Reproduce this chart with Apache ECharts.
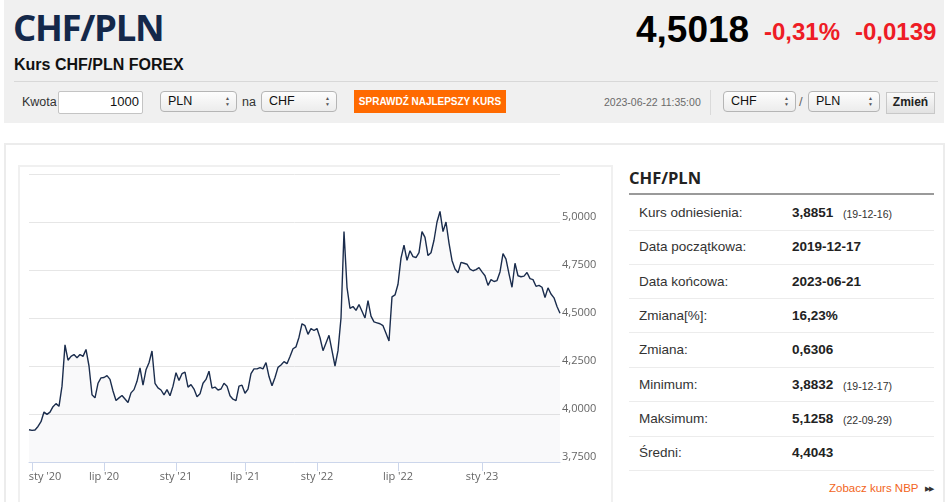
<!DOCTYPE html>
<html>
<head>
<meta charset="utf-8">
<script src="https://cdn.jsdelivr.net/npm/echarts@6/dist/echarts.min.js"></script>
<style>
  html, body { margin:0; padding:0; background:#fff; }
  body { width:948px; height:502px; position:relative; overflow:hidden; font-family:"Liberation Sans", Arial, sans-serif; color:#333; }
  .abs { position:absolute; white-space:nowrap; }
  .sel { position:absolute; height:19px; border:1px solid #b5b5b5; border-radius:4px; background:linear-gradient(#fdfdfd,#ececec); font-size:12.5px; line-height:19px; color:#111; box-sizing:content-box; }
  .sel span.t { position:absolute; left:7px; top:0; }
  .sel span.a { position:absolute; right:6px; top:4px; font-size:5px; line-height:5.5px; color:#555; text-align:center; }
  .row { position:absolute; left:629px; width:305px; height:1px; background:#ececec; }
  .lab { position:absolute; left:639px; font-size:13.5px; color:#333; white-space:nowrap; }
  .val { position:absolute; left:792px; font-size:13.5px; font-weight:bold; color:#222; white-space:nowrap; }
  .dt { position:absolute; left:843px; font-size:10.5px; color:#333; white-space:nowrap; }
</style>
</head>
<body>
<div class="abs" style="left:4px;top:0;width:940px;height:123px;background:#f0f0f0"></div>

<div class="abs" style="left:13px;top:5px;font-family:'Open Sans';font-weight:700;font-size:36.5px;line-height:44px;color:#14284a;letter-spacing:-1.3px">CHF/PLN</div>
<div class="abs" style="left:14px;top:57px;font-size:16px;line-height:16px;font-weight:bold;color:#111">Kurs CHF/PLN FOREX</div>

<div class="abs" style="left:636px;top:11px;font-size:37px;line-height:37px;font-weight:bold;color:#000">4,5018</div>
<div class="abs" style="left:764px;top:20px;font-size:24px;line-height:24px;font-weight:bold;color:#ee1c25">-0,31%</div>
<div class="abs" style="left:855px;top:20px;font-size:24px;line-height:24px;font-weight:bold;color:#ee1c25">-0,0139</div>

<div class="abs" style="left:14px;top:81px;width:924px;height:1px;background:#d8d8d8"></div>

<div class="abs" style="left:22px;top:96px;font-size:12.5px;line-height:13px;color:#333">Kwota</div>
<div class="abs" style="left:58px;top:91px;width:83px;height:21px;background:#fff;border:1px solid #c4c4c4;border-radius:2px"></div>
<div class="abs" style="left:110px;top:95px;width:28px;text-align:right;font-size:13px;line-height:14px;color:#111">1000</div>

<div class="sel" style="left:160px;top:91px;width:75px"><span class="t">PLN</span><span class="a">▲<br>▼</span></div>
<div class="abs" style="left:242px;top:96px;font-size:12.5px;line-height:13px;color:#333">na</div>
<div class="sel" style="left:261px;top:91px;width:74px"><span class="t">CHF</span><span class="a">▲<br>▼</span></div>

<div class="abs" style="left:354px;top:90px;width:152px;height:23px;background:#ff6a00"></div>
<div class="abs" style="left:354px;top:96px;width:152px;text-align:center;font-size:10.5px;line-height:11px;font-weight:bold;color:#fff;transform:scaleX(0.95)">SPRAWDŹ NAJLEPSZY KURS</div>

<div class="abs" style="left:604px;top:97px;font-size:10.5px;line-height:11px;color:#6a6a6a">2023-06-22 11:35:00</div>
<div class="abs" style="left:710px;top:90px;width:1px;height:25px;background:#dadada"></div>
<div class="sel" style="left:723px;top:91px;width:71px"><span class="t">CHF</span><span class="a">▲<br>▼</span></div>
<div class="abs" style="left:799px;top:95px;font-size:13px;line-height:14px;color:#666">/</div>
<div class="sel" style="left:808px;top:91px;width:70px"><span class="t">PLN</span><span class="a">▲<br>▼</span></div>
<div class="abs" style="left:886px;top:92px;width:47px;height:20px;border:1px solid #c8c8c8;background:linear-gradient(#fafafa,#e2e2e2)"></div>
<div class="abs" style="left:886px;top:96px;width:49px;text-align:center;font-size:12px;line-height:13px;font-weight:bold;color:#222">Zmień</div>

<div class="abs" style="left:4px;top:143px;width:937px;height:370px;border:2px solid #ececec;background:#fff"></div>
<div class="abs" style="left:18px;top:165px;width:591px;height:350px;border:2px solid #f0f0f0;background:#fff"></div>
<div id="chart" class="abs" style="left:20px;top:167px;width:590px;height:320px"></div>

<div class="abs" style="left:629px;top:168px;font-family:'Open Sans';font-weight:700;font-size:16.5px;line-height:20px;color:#222">CHF/PLN</div>
<div class="abs" style="left:629px;top:193px;width:305px;height:2px;background:#9a9a9a"></div>

<div class="row" style="top:230px"></div>
<div class="row" style="top:264px"></div>
<div class="row" style="top:298px"></div>
<div class="row" style="top:332px"></div>
<div class="row" style="top:367px"></div>
<div class="row" style="top:401px"></div>
<div class="row" style="top:436px"></div>
<div class="row" style="top:470px"></div>

<div id="table"></div>

<div class="abs" style="left:829px;top:482px;font-size:11.5px;line-height:13px;color:#f26522">Zobacz kurs NBP</div>
<div class="abs" style="left:925px;top:483px;font-size:7px;line-height:12px;color:#333;letter-spacing:-1px">▶▶</div>

<script>
// kurs CHF/PLN, odczyt z wykresu (punkty w równych odstępach osi)
var values = [
  3.918, 3.915, 3.917, 3.935, 3.96, 4.01, 3.998, 4.01, 4.038, 4.054,
  4.04, 4.145, 4.36, 4.28, 4.30, 4.31, 4.293, 4.31, 4.30, 4.336,
  4.25, 4.10, 4.084, 4.16, 4.188, 4.19, 4.20, 4.18, 4.12, 4.07,
  4.084, 4.096, 4.078, 4.06, 4.11, 4.127, 4.17, 4.24, 4.15, 4.23,
  4.267, 4.328, 4.16, 4.136, 4.125, 4.10, 4.127, 4.095, 4.145, 4.215,
  4.175, 4.21, 4.218, 4.14, 4.153, 4.13, 4.09, 4.105, 4.16, 4.18,
  4.223, 4.135, 4.14, 4.125, 4.13, 4.16, 4.145, 4.095, 4.077, 4.07,
  4.145, 4.15, 4.108, 4.13, 4.21, 4.235, 4.235, 4.242, 4.235, 4.268,
  4.195, 4.147, 4.19, 4.243, 4.255, 4.273, 4.262, 4.30, 4.34, 4.35,
  4.40, 4.47, 4.46, 4.415, 4.445, 4.435, 4.445, 4.397, 4.33, 4.37,
  4.41, 4.33, 4.25, 4.33, 4.50, 4.95, 4.66, 4.55, 4.56, 4.54,
  4.57, 4.535, 4.50, 4.59, 4.51, 4.48, 4.475, 4.47, 4.46, 4.42,
  4.38, 4.61, 4.62, 4.676, 4.812, 4.88, 4.80, 4.85, 4.82, 4.815,
  4.84, 4.95, 4.92, 4.825, 4.84, 4.905, 5.00, 5.055, 4.95, 5.00,
  4.89, 4.80, 4.755, 4.735, 4.79, 4.785, 4.78, 4.755, 4.746, 4.752,
  4.762, 4.74, 4.72, 4.67, 4.70, 4.69, 4.695, 4.74, 4.835, 4.807,
  4.73, 4.66, 4.785, 4.72, 4.715, 4.718, 4.737, 4.705, 4.70, 4.665,
  4.67, 4.66, 4.607, 4.657, 4.625, 4.605, 4.56, 4.525
];
var tickIndex = [1, 25, 49, 72, 96, 123, 151];
var tickLabels = ["sty '20", "lip '20", "sty '21", "lip '21", "sty '22", "lip '22", "sty '23"];
var yMin = 3.75, yMax = 5.25, yStep = 0.25;

var tableLabels = ['Kurs odniesienia:', 'Data początkowa:', 'Data końcowa:', 'Zmiana[%]:', 'Zmiana:', 'Minimum:', 'Maksimum:', 'Średni:'];
var tableValues = ['3,8851', '2019-12-17', '2023-06-21', '16,23%', '0,6306', '3,8832', '5,1258', '4,4043'];
var tableDates = ['(19-12-16)', '', '', '', '', '(19-12-17)', '(22-09-29)', ''];

// tabela po prawej
var html = '';
for (var i = 0; i < tableLabels.length; i++) {
  var rowTop = Math.round(205 + i * 34.3);
  html += '<div class="lab" style="top:' + rowTop + 'px;line-height:15px">' + tableLabels[i] + '</div>';
  html += '<div class="val" style="top:' + rowTop + 'px;line-height:15px">' + tableValues[i] + '</div>';
  if (tableDates[i]) {
    html += '<div class="dt" style="top:' + (rowTop + 3) + 'px;line-height:12px">' + tableDates[i] + '</div>';
  }
}
document.getElementById('table').innerHTML = html;

var isTick = function (idx) { return tickIndex.indexOf(idx) >= 0; };

var chart = echarts.init(document.getElementById('chart'));
var option = {
  animation: false,
  grid: { left: 9, right: 50, top: 7, bottom: 25 },
  xAxis: {
    type: 'category',
    boundaryGap: false,
    data: values.map(function (v, i) { return i; }),
    axisLine: { lineStyle: { color: '#ccd6eb' } },
    axisTick: { interval: isTick, length: 9, lineStyle: { color: '#ccd6eb' } },
    axisLabel: {
      interval: isTick,
      margin: 9,
      color: '#666',
      fontSize: 11,
      fontFamily: 'Open Sans',
      formatter: function (val, idx) {
        var k = tickIndex.indexOf(idx);
        if (k === 0) return '{first|' + tickLabels[k] + '}';
        return k >= 0 ? tickLabels[k] : '';
      },
      rich: { first: { padding: [0, 0, 0, 26], color: '#666', fontSize: 11, fontFamily: 'Open Sans' } }
    },
    splitLine: { show: false }
  },
  yAxis: {
    type: 'value',
    position: 'right',
    min: yMin,
    max: yMax,
    interval: yStep,
    axisLine: { show: false },
    axisTick: { show: false },
    axisLabel: {
      margin: 2,
      color: '#666',
      fontSize: 11,
      fontFamily: 'Open Sans',
      verticalAlign: 'bottom',
      showMaxLabel: false,
      formatter: function (v) { return v.toFixed(4).replace('.', ','); }
    },
    splitLine: { lineStyle: { color: '#e6e6e6' } }
  },
  series: [{
    name: 'CHF/PLN',
    type: 'line',
    data: values,
    symbol: 'none',
    lineStyle: { color: '#1b2d4d', width: 1.4 },
    areaStyle: { color: 'rgba(30,50,90,0.04)' }
  }]
};
chart.setOption(option);
</script>
</body>
</html>
